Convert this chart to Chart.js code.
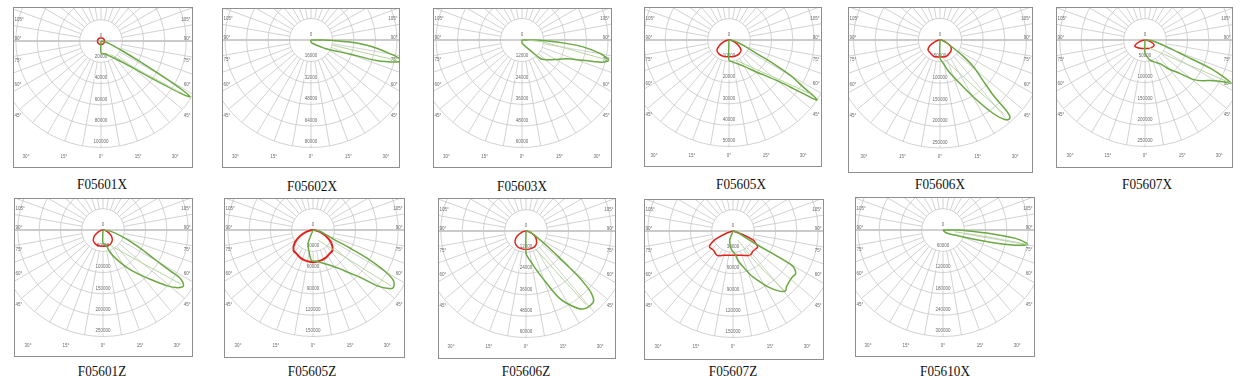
<!DOCTYPE html>
<html><head><meta charset="utf-8">
<script src="https://cdn.jsdelivr.net/npm/chart.js@4.4.1/dist/chart.umd.min.js"></script>
<style>
html,body{margin:0;padding:0;background:#fff;}
#root{position:relative;width:1245px;height:383px;overflow:hidden;background:#fff;}
canvas{position:absolute;}
.ttl{position:absolute;font-family:"Liberation Serif","Times New Roman",serif;font-size:15px;line-height:15px;color:#111;white-space:nowrap;transform:translateX(-50%) scaleX(0.88);}
</style></head>
<body><div id="root"></div>
<script>
// ---------- names & tick labels ----------
const panelNames = ['F05601X','F05602X','F05603X','F05605X','F05606X','F05607X','F05601Z','F05605Z','F05606Z','F05607Z','F05610X'];
const p1Ticks  = [0,20000,40000,60000,80000,100000];
const p2Ticks  = [0,16000,32000,48000,64000,80000];
const p3Ticks  = [0,12000,24000,36000,48000,60000];
const p4Ticks  = [0,10000,20000,30000,40000,50000];
const p5Ticks  = [0,50000,100000,150000,200000,250000];
const p6Ticks  = [0,50000,100000,150000,200000,250000];
const p7Ticks  = [0,50000,100000,150000,200000,250000];
const p8Ticks  = [0,30000,60000,90000,120000,150000];
const p9Ticks  = [0,12000,24000,36000,48000,60000];
const p10Ticks = [0,30000,60000,90000,120000,150000];
const p11Ticks = [0,60000,120000,180000,240000,300000];
const sideAngleLabels = ['105°','90°','75°','60°','45°'];
const bottomAngleLabels = ['30°','15°','0°','15°','30°'];

// ---------- series (angle in degrees from nadir, intensity in cd) ----------
const p1RedAng = [-180,-135,-90,-45,0,45,90,135,180];
const p1RedCd  = [2900,3100,3300,3400,3400,3400,3300,3100,2900];
const p1GreenAng = [0,0,10,20,30,40,45,50,53,55,57,58,59,60,62,65,70,75,80,90];
const p1GreenCd  = [0,11100,12100,13000,16300,22400,27900,39100,53900,69800,93000,98600,88400,69800,41900,23300,11100,5600,2800,0];
const p1ThinAng = [34,49.2,53.5,55.7,56.8];
const p1ThinCd  = [14900,32600,50900,69300,87400];

const p2GreenAng = [0,0,30,45,55,59,65,70,72.6,75.5,77,78.5,80.2,82.5,84.7,87,89,90,91.5];
const p2GreenCd  = [0,1500,3000,5300,9100,12200,19000,29700,51000,65500,68600,66300,59400,50300,41100,29000,16000,9100,0];
const p2ThinAng = [76.4,76.6];
const p2ThinCd  = [16200,65800];

const p3GreenAng = [0,0,20,30,40,45,50,54,60,67,71.6,74.2,76,77,78,80.2,83.6,85.6,88.3,90,92];
const p3GreenCd  = [0,1700,2900,4600,8600,14800,17100,18800,21700,26800,36000,45700,49100,49700,48500,44500,34300,24600,13100,6900,0];
const p3ThinAng = [88,85,80.2,78.3,77.4,76.8];
const p3ThinCd  = [2900,11400,21100,30600,40000,49700];

const p4RedAng = [-90,-80,-70,-60,-50,-35,-20,0,20,35,50,60,70,80,90];
const p4RedCd  = [0,1200,2900,5200,7400,8100,8100,7900,8100,8100,7400,5200,2900,1200,0];
const p4GreenAng = [0,0,10,20,30,40.7,45,50.6,53,54.2,55.2,55.8,56.5,57.1,58.5,60,62,64,68,73,80,90];
const p4GreenCd  = [0,9500,10500,11900,14300,20000,23300,31200,38100,43300,48600,50000,47600,43800,38100,33300,23800,14500,8600,5200,2400,0];
const p4ThinAng = [19.3,41.9,50.1,54.2,56.6];
const p4ThinCd  = [10100,18100,27200,36600,46000];

const p5RedAng = [-90,-80,-70,-60,-50,-40,-20,0,20,40,50,60,70,80,90];
const p5RedCd  = [0,5800,14000,27900,36100,37200,40700,39500,40700,37200,34000,27900,14000,5800,0];
const p5GreenAng = [0,0,8,15,22.6,30.4,36,39.3,41.5,42.8,43.4,43.8,46,51.3,55,60,70,80,90];
const p5GreenCd  = [0,41900,54700,74400,100700,152800,211000,238400,243300,234900,214000,181400,144200,99300,65100,31400,14000,5800,0];
const p5ThinAng = [10.3,29.8,36,39,40.8];
const p5ThinCd  = [43300,85800,131700,178400,225400];

const p6RedAng = [-90,-75,-59,-30,0,30,61,75,90];
const p6RedCd  = [0,11900,27900,22600,19800,22600,24500,11900,0];
const p6GreenAng = [0,0,8,14,24.7,32.8,39.5,46.4,50.9,55,58.4,62.5,63.3,64.5,66.5,68.6,72,78,85,90];
const p6GreenCd  = [0,31000,40500,49000,57100,66700,88100,114300,147600,166700,181000,214300,226200,209500,169000,97600,59500,28600,14300,0];
const p6ThinAng = [14.2,55.1,60.3,62.3,63.3];
const p6ThinCd  = [16400,65200,118800,172600,226400];

const p7RedAng = [-90,-80,-65,-55,-45,-40,-30,-20,0,20,30,40,45,55,65,80,90];
const p7RedCd  = [0,4800,14300,25000,32100,34500,36900,38100,38100,38100,36900,33300,31000,23800,14300,4800,0];
const p7GreenAng = [0,0,12,17,25,32.4,38,42.5,49,52.3,55.3,57.8,58.7,59.6,62,66,72,80,90];
const p7GreenCd  = [0,31000,36900,54000,76200,103600,128600,152400,200000,221400,229800,215700,185700,157100,119000,78600,42900,19000,0];
const p7ThinAng = [24,44.5,50.6,53.6,55.2];
const p7ThinCd  = [39000,82100,128300,175200,222400];

const p8RedAng = [-90,-85,-75,-65,-55,-44,-35,-25,-15,0,15,25,35,44,55,65,75,85,90];
const p8RedCd  = [0,2900,10000,20000,31400,39600,40700,42900,44300,45300,44300,42900,40700,39600,31400,20000,10000,2900,0];
const p8GreenAng = [-30,-20,-10,-3,5,12,25,34.9,40,45,49,52.4,54.5,57.8,60.3,62.5,64,66,70,80,90];
const p8GreenCd  = [0,20000,31400,42900,44300,46300,54300,66700,78600,94300,120000,135200,139300,134000,115200,85700,57100,31400,20000,8600,0];
const p8ThinAng = [26.6,47.1,51.5,53.3,54.4];
const p8ThinCd  = [16000,44700,74600,104700,134900];

const p9RedAng = [-90,-75,-60,-48,-35,-20,0,20,35,48,60,75,90];
const p9RedCd  = [0,2300,5700,8300,9700,10300,10400,10300,9700,8000,5700,2300,0];
const p9GreenAng = [0,0,5,8.4,14,19.2,26.3,31.8,36,40,43.9,46.5,48,48.9,50,51.5,54,58.8,65,75,90];
const p9GreenCd  = [0,12600,15400,17100,21700,27800,42000,49900,54400,55400,54900,50600,44500,40000,31400,23900,16000,8500,4600,2300,0];
const p9ThinAng = [27.7,34.8,37.2,38.5,39.2];
const p9ThinCd  = [11400,21800,32400,42900,53600];

const p10RedAng = [-90,-70,-65,-62,-56,-45,-33,-20,0,20,34.8,45,57,62,65.8,70,90];
const p10RedCd  = [0,11400,25700,32900,40000,38600,41000,36400,34300,36400,41700,40000,41400,35700,31400,14300,0];
const p10GreenAng = [-30,-20,-10,-3,4.4,10,17.4,22,27,32,37.3,41.2,44,47.3,52,55.6,58,59.7,60.3,60.5,62,70,80,90];
const p10GreenCd  = [0,13700,21400,27200,32000,42900,55700,67200,78600,92900,106000,112000,108600,106900,105700,106900,102900,96500,74300,35700,21400,8600,2900,0];
const p10ThinAng = [29,35,38,40.8];
const p10ThinCd  = [14700,42900,71400,109400];

const p11GreenAng = [0,40,55,66.8,72,75.4,78.2,80.3,81.5,83.4,85.8,88,89.5,91];
const p11GreenCd  = [0,5700,17100,36300,71400,132900,208600,241400,234300,205700,128600,71400,33400,0];
const p11ThinAng = [81.7,81,80.3];
const p11ThinCd  = [33700,137100,241400];

// ---------- layout (page pixels) ----------
const panels = [
  {name:panelNames[0], ticks:p1Ticks, box:[13,7,180,161], c:[88,34], ring:21.3, title:[102,185],
   red:[p1RedAng,p1RedCd], green:[p1GreenAng,p1GreenCd], thin:[p1ThinAng,p1ThinCd]},
  {name:panelNames[1], ticks:p2Ticks, box:[222,8,178,160], c:[89,32], ring:21.5, title:[312,187],
   green:[p2GreenAng,p2GreenCd], thin:[p2ThinAng,p2ThinCd]},
  {name:panelNames[2], ticks:p3Ticks, box:[433,8,179,160], c:[89,32], ring:21.5, title:[522,187],
   green:[p3GreenAng,p3GreenCd], thin:[p3ThinAng,p3ThinCd]},
  {name:panelNames[3], ticks:p4Ticks, box:[644,7,178,160], c:[85,33], ring:21.3, title:[741,185],
   red:[p4RedAng,p4RedCd], green:[p4GreenAng,p4GreenCd], thin:[p4ThinAng,p4ThinCd]},
  {name:panelNames[4], ticks:p5Ticks, box:[848,7,185,166], c:[92,33], ring:21.6, title:[940,185],
   red:[p5RedAng,p5RedCd], green:[p5GreenAng,p5GreenCd], thin:[p5ThinAng,p5ThinCd]},
  {name:panelNames[5], ticks:p6Ticks, box:[1056,7,177,161], c:[89,33], ring:21.3, title:[1147,185],
   red:[p6RedAng,p6RedCd], green:[p6GreenAng,p6GreenCd], thin:[p6ThinAng,p6ThinCd]},
  {name:panelNames[6], ticks:p7Ticks, box:[14,198,179,159], c:[89,32], ring:21.3, title:[102,372],
   red:[p7RedAng,p7RedCd], green:[p7GreenAng,p7GreenCd], thin:[p7ThinAng,p7ThinCd]},
  {name:panelNames[7], ticks:p8Ticks, box:[224,198,181,160], c:[89,32], ring:21.3, title:[312,372],
   red:[p8RedAng,p8RedCd], green:[p8GreenAng,p8GreenCd], thin:[p8ThinAng,p8ThinCd], redW:2},
  {name:panelNames[8], ticks:p9Ticks, box:[438,198,178,161], c:[88,33], ring:21.3, title:[526,372],
   red:[p9RedAng,p9RedCd], green:[p9GreenAng,p9GreenCd], thin:[p9ThinAng,p9ThinCd]},
  {name:panelNames[9], ticks:p10Ticks, box:[644,199,180,161], c:[89,32], ring:21.3, title:[733,372],
   red:[p10RedAng,p10RedCd], green:[p10GreenAng,p10GreenCd], thin:[p10ThinAng,p10ThinCd]},
  {name:panelNames[10], ticks:p11Ticks, box:[855,197,180,160], c:[88,33], ring:21.3, title:[945,372],
   green:[p11GreenAng,p11GreenCd], thin:[p11ThinAng,p11ThinCd]}
];

function toXY(ang, cd){
  return ang.map((a,i)=>({x: cd[i]*Math.sin(a*Math.PI/180), y: -cd[i]*Math.cos(a*Math.PI/180)}));
}

const gridPlugin = {
  id:'photoGrid',
  beforeDatasetsDraw(chart, args, opts){
    const {ctx, chartArea:a, scales:{x,y}} = chart;
    const cx = x.getPixelForValue(0), cy = y.getPixelForValue(0);
    const ticks = opts.ticks;
    const rr = ticks.map(t => x.getPixelForValue(t) - cx);
    const R = rr[1];
    ctx.save();
    ctx.beginPath(); ctx.rect(a.left, a.top, a.right-a.left, a.bottom-a.top); ctx.clip();
    ctx.fillStyle='#fff'; ctx.fillRect(a.left,a.top,a.right-a.left,a.bottom-a.top);
    ctx.strokeStyle='#c6c6c6'; ctx.lineWidth=0.8;
    for(let k=1;k<rr.length;k++){ ctx.beginPath(); ctx.arc(cx,cy,rr[k],0,Math.PI*2); ctx.stroke(); }
    const r0 = rr[1], r1 = rr[rr.length-1];
    for(let d=0; d<360; d+=10){
      const s=Math.sin(d*Math.PI/180), c=Math.cos(d*Math.PI/180);
      ctx.beginPath(); ctx.moveTo(cx+s*r0, cy+c*r0); ctx.lineTo(cx+s*r1, cy+c*r1); ctx.stroke();
    }
    ctx.strokeStyle='#c2c2c2'; ctx.lineWidth=1.6;
    ctx.beginPath(); ctx.moveTo(a.left, cy); ctx.lineTo(a.right, cy); ctx.stroke();
    // ring labels
    ctx.font='4.5px "Liberation Sans", Arial, sans-serif';
    ctx.textAlign='center'; ctx.textBaseline='middle';
    for(let k=0;k<ticks.length;k++){
      const t=String(ticks[k]); const ty = cy + rr[k] - 5.5;
      const w = ctx.measureText(t).width;
      if(k>0){ ctx.fillStyle='#fff'; ctx.fillRect(cx-w/2-0.5, ty-2.5, w+1, 5); }
      ctx.fillStyle='#6a6a6a'; ctx.fillText(t, cx, ty);
    }
    // side angle labels
    const sideDy = [-0.98,-0.1,0.93,2.07,3.53];
    sideAngleLabels.forEach((lab,i)=>{
      ctx.textAlign='left'; ctx.fillText(lab, a.left+1.5, cy + sideDy[i]*R);
      ctx.textAlign='right'; ctx.fillText(lab, a.right-2.5, cy + sideDy[i]*R);
    });
    const botDx = [-3.52,-1.74,0,1.74,3.48];
    ctx.textAlign='center';
    bottomAngleLabels.forEach((lab,i)=>{ ctx.fillText(lab, cx + botDx[i]*R, cy + 5.42*R); });
    ctx.restore();
  },
  afterDraw(chart){
    const {ctx, chartArea:a} = chart;
    ctx.save(); ctx.strokeStyle='#8e8e8e'; ctx.lineWidth=1;
    ctx.strokeRect(a.left+0.5, a.top+0.5, a.right-a.left-1, a.bottom-a.top-1);
    ctx.restore();
  }
};

const root = document.getElementById('root');
panels.forEach(p=>{
  const [L,T,W,H] = p.box;
  const cv = document.createElement('canvas');
  cv.width=W; cv.height=H; cv.style.left=L+'px'; cv.style.top=T+'px';
  cv.style.width=W+'px'; cv.style.height=H+'px';
  root.appendChild(cv);
  const step = p.ticks[1], u = step/p.ring;
  const [cx,cy] = p.c;
  const ds = [];
  if(p.thin) ds.push({data:toXY(p.thin[0],p.thin[1]), showLine:true, borderColor:'#b3d69a', borderWidth:1, tension:0.2, pointRadius:0});
  ds.push({data:toXY(p.green[0],p.green[1]), showLine:true, borderColor:'#6aa842', borderWidth:1.5, tension:0.3, pointRadius:0});
  if(p.red) ds.push({data:toXY(p.red[0],p.red[1]), showLine:true, borderColor:'#e3231b', borderWidth:p.redW||1.5, tension:0.3, pointRadius:0});
  new Chart(cv, {
    type:'scatter',
    data:{datasets:ds},
    options:{
      responsive:false, animation:false, devicePixelRatio:1,
      layout:{padding:0},
      plugins:{legend:{display:false}, tooltip:{enabled:false}, photoGrid:{ticks:p.ticks}},
      scales:{
        x:{type:'linear', display:false, min:-cx*u, max:(W-cx)*u},
        y:{type:'linear', display:false, min:-(H-cy)*u, max:cy*u}
      }
    },
    plugins:[gridPlugin]
  });
  const t = document.createElement('div');
  t.className='ttl'; t.textContent=p.name;
  t.style.left=p.title[0]+'px'; t.style.top=(p.title[1]-8)+'px';
  root.appendChild(t);
});
</script>
</body></html>
